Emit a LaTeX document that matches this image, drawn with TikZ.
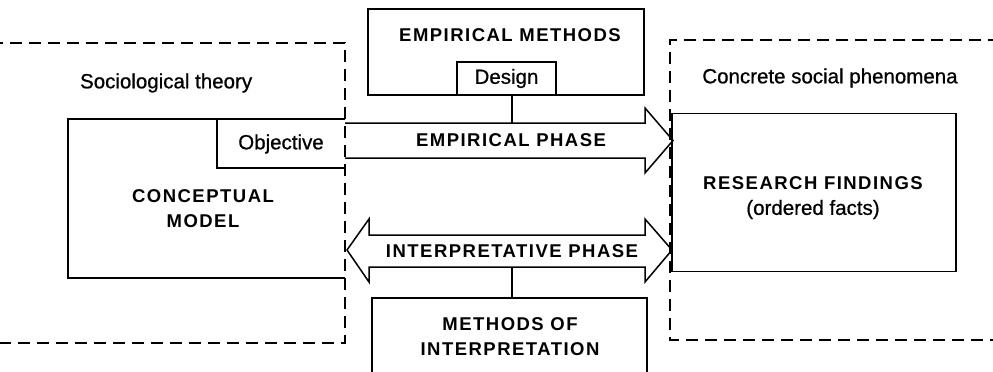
\documentclass[tikz,border=0pt]{standalone}
\usepackage{fontspec}
\setmainfont{Liberation Sans}
\newfontfamily\capsfont[LetterSpace=8]{Liberation Sans}
\newfontfamily\plainfont[FakeBold=0.7]{Liberation Sans}
\usetikzlibrary{positioning}

\begin{document}
\begin{tikzpicture}[
    x=1pt, y=-1pt,
    line width=1.5pt,
    box/.style={draw, rectangle, inner sep=0pt},
    frame/.style={dash pattern=on 12pt off 7pt, line width=1.3pt},
    caps/.style={font=\capsfont\bfseries\fontsize{18.5}{25}\selectfont, align=center},
    plain/.style={font=\plainfont\fontsize{20.5}{27}\selectfont, align=center},
    fat/.style={draw, line width=1.5pt, line join=miter}
  ]
  \useasboundingbox (0,0) rectangle (993,372);

  % dashed frames
  \draw[frame] (-5,43) rectangle (345,343);
  \draw[frame] (1000,40) -- (670,40) -- (670,340) -- (1000,340);

  % left side
  \node[plain, anchor=west] (theory) at (76,83) {Sociological theory};
  \draw (345,119) -| (68,278) -- (345,278);
  \draw (345,119) -- (217,119) -- (217,168) -- (345,168);
  \node[plain] (objective) at (281,144) {Objective};
  \node[caps] (model) at (203,209) {CONCEPTUAL\\MODEL};

  % empirical methods
  \node[box, minimum width=276pt, minimum height=86pt] (methods) at (506,52) {};
  \node[caps] (methodslbl) at (510,35) {EMPIRICAL METHODS};
  \node[box, plain, minimum width=99pt, minimum height=33pt] (design) at (506.5,78.5) {Design};

  % phases
  \draw[fat] (345,123) -- (645,123) -- (645,108) -- (673,140.5)
    -- (645,173) -- (645,158) -- (345,158);
  \node[caps] (empirical) at (511,140) {EMPIRICAL PHASE};
  \coordinate (emptop) at (512,123);

  \draw[fat] (347,250) -- (369,219) -- (369,235) -- (645,235) -- (645,219)
    -- (672,250) -- (645,282) -- (645,267) -- (369,267) -- (369,282) -- cycle;
  \node[caps] (interp) at (512,251) {INTERPRETATIVE PHASE};
  \coordinate (intbot) at (512,267);

  % methods of interpretation
  \node[box, minimum width=275pt, minimum height=120pt, anchor=north] (interpbox) at (509.5,297) {};
  \node[caps] (interplbl) at (510,337) {METHODS OF\\INTERPRETATION};

  % right side
  \node[plain] (phenomena) at (830,78) {Concrete social phenomena};
  \node[box, minimum width=284pt, minimum height=158pt] (findings) at (814,192.5) {};
  \node[caps] (findingslbl) at (813,198) {RESEARCH FINDINGS\\{\plainfont\mdseries\fontsize{20.5}{27}\selectfont(ordered facts)}};

  % links
  \draw (design.south -| emptop) -- (emptop);
  \draw (intbot) -- (intbot |- interpbox.north);
\end{tikzpicture}
\end{document}
